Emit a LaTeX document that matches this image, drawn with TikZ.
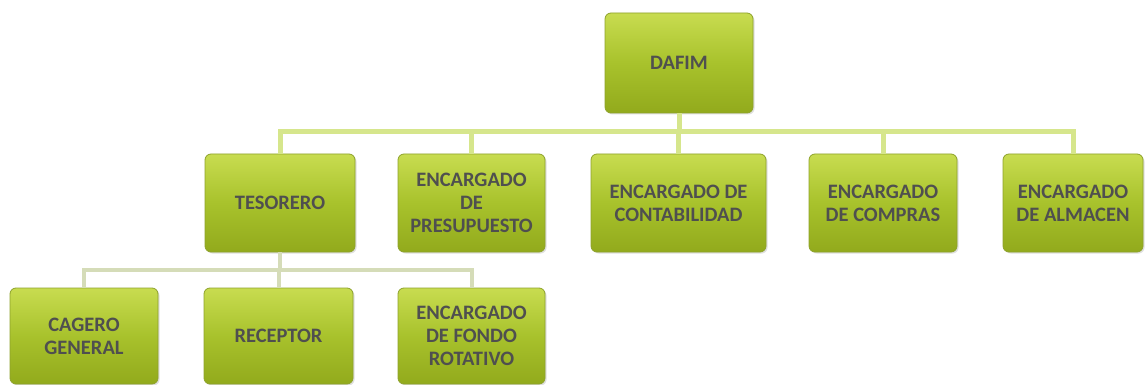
\documentclass[tikz,border=0pt]{standalone}
\usepackage{fontspec}
\setmainfont{Carlito}
\usetikzlibrary{shadows}
\definecolor{boxtop}{HTML}{C8DC50}
\definecolor{boxmid}{HTML}{A8C22C}
\definecolor{boxbot}{HTML}{92AA1C}
\definecolor{boxedge}{HTML}{8EA22C}
\definecolor{txt}{HTML}{4F4F4F}
\definecolor{busA}{HTML}{D6E68C}
\definecolor{busB}{HTML}{D5DCB8}
\begin{document}
\begin{tikzpicture}[x=1pt,y=-1pt,
  orgbox/.style={rounded corners=6pt, top color=boxtop, bottom color=boxbot,
    middle color=boxmid, draw=boxedge, line width=0.8pt, align=center,
    font=\bfseries\fontsize{20.5}{23}\selectfont, text=txt, inner sep=0pt,
    drop shadow={opacity=0.25, shadow xshift=1.5pt, shadow yshift=-1.5pt}},
  conntop/.style={draw=busA, line width=5pt},
  connlow/.style={draw=busB, line width=4pt}
]
\fill[white] (0,0) rectangle (1146,385);
\useasboundingbox (0,0) rectangle (1146,385);

\node[orgbox, minimum width=148pt, minimum height=100pt] (dafim) at (679,63) {DAFIM};

\node[orgbox, minimum width=150pt, minimum height=98pt] (tes) at (280,203) {TESORERO};
\node[orgbox, minimum width=147pt, minimum height=98pt] (pres) at (471.5,203) {ENCARGADO\\DE\\PRESUPUESTO};
\node[orgbox, minimum width=175pt, minimum height=98pt] (cont) at (678.5,203) {ENCARGADO DE\\CONTABILIDAD};
\node[orgbox, minimum width=148pt, minimum height=98pt] (comp) at (883,203) {ENCARGADO\\DE COMPRAS};
\node[orgbox, minimum width=140pt, minimum height=98pt] (alm) at (1073,203) {ENCARGADO\\DE ALMACEN};

\node[orgbox, minimum width=148pt, minimum height=96pt] (cag) at (84,336) {CAGERO\\GENERAL};
\node[orgbox, minimum width=149pt, minimum height=96pt] (rec) at (278.5,336) {RECEPTOR};
\node[orgbox, minimum width=147pt, minimum height=96pt] (fondo) at (471.5,336) {ENCARGADO\\DE FONDO\\ROTATIVO};

\draw[conntop] (dafim.south) -- ++(0,18) coordinate (bA);
\foreach \c in {tes,pres,cont,comp,alm}
  \draw[conntop] (bA) -| (\c.north);

\draw[connlow] (tes.south) -- ++(0,18) coordinate (bB);
\foreach \c in {cag,rec,fondo}
  \draw[connlow] (bB) -| (\c.north);
\end{tikzpicture}
\end{document}
